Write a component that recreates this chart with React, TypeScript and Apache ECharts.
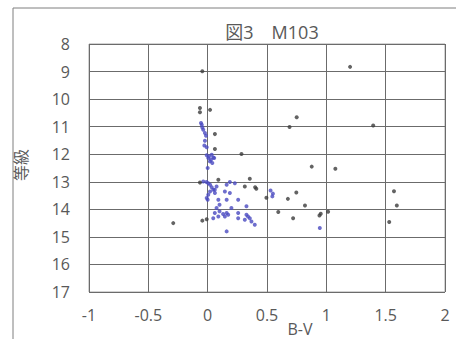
import React, { useEffect, useRef } from "react";
import * as echarts from "echarts";

const titleText = "図3　M103";
const xName = "B-V";
const yName = "等級";
const xTicks = { min: -1, max: 2, interval: 0.5 };
const yTicks = { min: 8, max: 17, interval: 1 };

// [B-V, magnitude] – blue cluster
const clusterStars: number[][] = [
  [-0.056, 10.87], [-0.05, 10.93], [-0.045, 11.03], [-0.037, 11.11], [-0.023, 11.23],
  [-0.014, 11.33], [-0.023, 11.51], [-0.028, 11.68], [-0.008, 11.75],
  [-0.008, 12.04], [0.011, 12.08], [0.034, 12.02], [0.047, 12.12], [0.005, 12.14],
  [0.028, 12.2], [0.055, 12.14], [0.019, 12.26], [0.039, 12.32], [0.0, 12.5],
  [-0.037, 12.99], [-0.01, 13.01], [0.005, 13.05], [0.02, 13.11], [0.034, 13.2],
  [0.047, 13.29], [0.061, 13.41], [0.02, 13.35], [0.005, 13.47], [-0.008, 13.59],
  [0.0, 13.65], [0.075, 13.17], [0.06, 13.29], [0.16, 13.11], [0.145, 13.35],
  [0.187, 13.01], [0.229, 13.05], [0.187, 13.41], [0.09, 13.65], [0.16, 13.65],
  [0.257, 13.65], [0.1, 13.83], [0.075, 13.95], [0.327, 13.89], [0.2, 13.95],
  [0.06, 14.13], [0.1, 14.07], [0.13, 14.17], [0.16, 14.13], [0.145, 14.26],
  [0.09, 14.26], [0.173, 14.2], [0.047, 14.32], [0.257, 14.13], [0.327, 14.2],
  [0.34, 14.26], [0.355, 14.32], [0.257, 14.32], [0.369, 14.44], [0.397, 14.56],
  [0.313, 14.38], [0.16, 14.8], [0.53, 13.32], [0.55, 13.43], [0.545, 13.53],
  [0.945, 14.68],
];

// [B-V, magnitude] – dark scattered stars
const fieldStars: number[][] = [
  [-0.045, 8.99], [1.2, 8.83], [-0.065, 10.32], [-0.065, 10.48], [0.02, 10.39],
  [0.75, 10.66], [0.69, 11.01], [1.395, 10.96], [0.061, 11.27], [0.061, 11.81],
  [0.285, 11.99], [0.877, 12.45], [1.076, 12.53], [0.09, 12.93], [0.355, 12.89],
  [-0.065, 13.03], [0.313, 13.17], [0.4, 13.2], [0.41, 13.25], [0.495, 13.58],
  [0.747, 13.39], [0.676, 13.62], [0.82, 13.86], [0.595, 14.1], [0.72, 14.32],
  [0.953, 14.16], [0.942, 14.22], [1.015, 14.09], [1.57, 13.34], [1.594, 13.86],
  [1.53, 14.46], [-0.29, 14.5], [-0.045, 14.41], [-0.008, 14.36],
];

export default function App() {
  const ref = useRef<HTMLDivElement>(null);
  useEffect(() => {
    if (!ref.current) return;
    const chart = echarts.init(ref.current, null, { renderer: "svg" });
    const textColor = "#595959";
    const font = "'Open Sans', 'Noto Sans CJK JP', sans-serif";
    chart.setOption({
      animation: false,
      backgroundColor: "#ffffff",
      textStyle: { fontFamily: font },
      title: {
        text: titleText,
        left: 267,
        top: 18,
        textAlign: "center",
        textStyle: { fontSize: 18, fontWeight: "normal", color: textColor, fontFamily: font },
      },
      grid: {
        left: 89,
        right: 11,
        top: 44,
        bottom: 47,
        show: true,
        borderColor: "#a6a6a6",
        borderWidth: 1,
      },
      xAxis: {
        type: "value",
        min: xTicks.min,
        max: xTicks.max,
        interval: xTicks.interval,
        axisLine: { show: false },
        axisTick: { show: false },
        axisLabel: { color: textColor, fontSize: 16, margin: 15, fontFamily: font },
        splitLine: { show: true, lineStyle: { color: "#6b6b6b", width: 1 } },
      },
      yAxis: {
        type: "value",
        inverse: true,
        min: yTicks.min,
        max: yTicks.max,
        interval: yTicks.interval,
        axisLine: { show: false },
        axisTick: { show: false },
        axisLabel: { color: textColor, fontSize: 16, margin: 19, fontFamily: font },
        splitLine: { show: true, lineStyle: { color: "#6b6b6b", width: 1 } },
      },
      graphic: [
        {
          type: "rect",
          shape: { x: 13, y: 8, width: 470, height: 400 },
          style: { fill: "none", stroke: "#7f7f7f", lineWidth: 1 },
          silent: true,
          z: -1,
        },
        {
          type: "text",
          x: 300,
          y: 329,
          style: {
            text: xName,
            fill: textColor,
            font: `16px ${font}`,
            textAlign: "center",
            textVerticalAlign: "middle",
          },
        },
        {
          type: "text",
          x: 21,
          y: 165,
          rotation: Math.PI / 2,
          style: {
            text: yName,
            fill: textColor,
            font: `16px ${font}`,
            textAlign: "center",
            textVerticalAlign: "middle",
          },
        },
      ],
      series: [
        {
          type: "scatter",
          name: "cluster",
          data: clusterStars,
          symbol: "circle",
          symbolSize: 4,
          itemStyle: { color: "#4a4ac0" },
        },
        {
          type: "scatter",
          name: "field",
          data: fieldStars,
          symbol: "circle",
          symbolSize: 4,
          itemStyle: { color: "#3c3c3c" },
        },
      ],
    });
    return () => chart.dispose();
  }, []);
  return (
    <div
      ref={ref}
      style={{ position: "fixed", left: 0, top: 0, width: 456, height: 339 }}
    />
  );
}
